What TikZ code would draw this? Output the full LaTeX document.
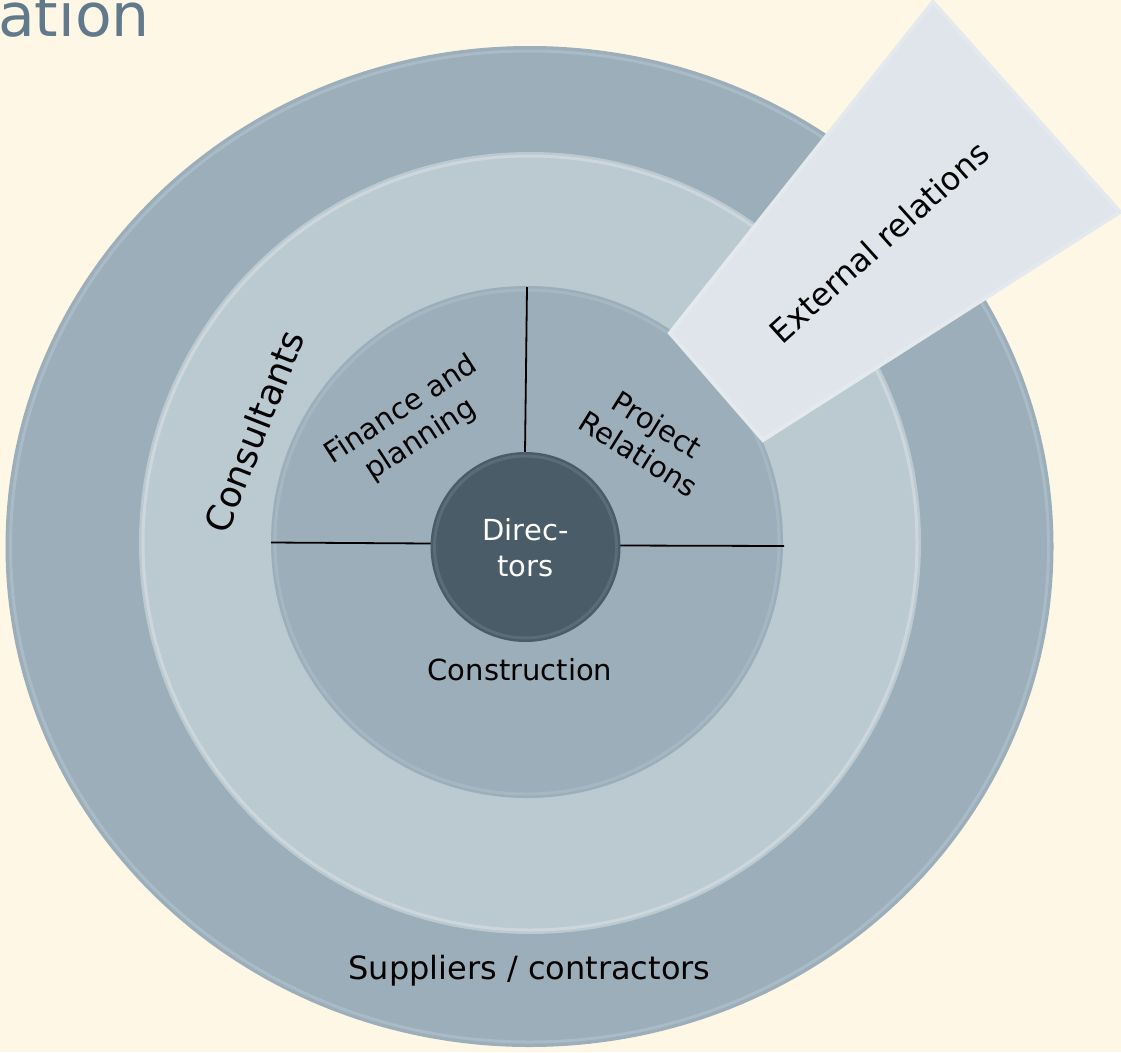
\documentclass[tikz,border=0pt]{standalone}
\usepackage{fontspec}
\setmainfont{DejaVu Sans}
\definecolor{bgcol}{HTML}{FFF7E6}
\definecolor{titlecol}{HTML}{607A8C}
\definecolor{ringdark}{HTML}{9BAEB9}
\definecolor{ringlight}{HTML}{BBC9D1}
\definecolor{dircol}{HTML}{4A5C68}
\definecolor{wedgecol}{HTML}{DFE5EA}
\definecolor{rimlight}{HTML}{C2D4DF}
\tikzset{
  lbl/.style={inner sep=0pt, text=black, align=center},
  divider/.style={draw=black, line width=1.8pt},
  rim/.style={draw=rimlight, line width=3pt, opacity=0.35},
}
\begin{document}
\begin{tikzpicture}[x=1pt,y=-1pt]
\useasboundingbox (0,0) rectangle (1121,1052);
\fill[bgcol] (0,0) rectangle (1121,1052);
% title fragment
\node[anchor=base east, text=titlecol, inner sep=0pt,
      font=\fontsize{60}{66}\selectfont] (title) at (150,36) {ation};
% outer ring
\fill[ringdark] (529.5,546.5) ellipse [x radius=524pt, y radius=500.5pt];
\draw[rim] (529.5,546.5) ellipse [x radius=519pt, y radius=495.5pt];
% middle ring
\fill[ringlight] (530,543) circle [radius=391pt];
\draw[rim, draw=white, opacity=0.25] (530,543) circle [radius=387pt];
% inner circle
\fill[ringdark] (527,542) circle [radius=256pt];
\draw[rim, opacity=0.25] (527,542) circle [radius=252pt];
% dividers
\coordinate (top1) at (527,287);
\coordinate (top2) at (525,453);
\coordinate (left1) at (271,542.5);
\coordinate (left2) at (431,543.5);
\coordinate (right1) at (620,545.5);
\coordinate (right2) at (784,546);
\draw[divider] (top1) -- (top2);
\draw[divider] (left1) -- (left2);
\draw[divider] (right1) -- (right2);
% directors
\fill[dircol] (525.5,547) circle [radius=95pt];
\draw[draw=white, line width=3pt, opacity=0.1] (525.5,547) circle [radius=91pt];
\node[lbl, text=white, font=\fontsize{29}{36}\selectfont] (dir) at (525.5,548) {Direc-\\tors};
% wedge
\filldraw[fill=wedgecol, draw=wedgecol!85!white, line width=4pt, line join=miter]
  (670,333) coordinate (w1) -- (933,2) coordinate (w2) -- (1120,212) coordinate (w3)
  -- (763,440) coordinate (w4) -- cycle;
% labels
\node[lbl, rotate=68.5, font=\fontsize{36}{42}\selectfont] (cons) at (254,431) {Consultants};
\node[lbl, rotate=33, font=\fontsize{29}{35}\selectfont] (fin) at (411,425) {Finance and\\planning};
\node[lbl, rotate=-32, font=\fontsize{29}{35}\selectfont] (proj) at (648,439) {Project\\Relations};
\node[lbl, anchor=base, font=\fontsize{29}{34}\selectfont] (constr) at (520,680) {Construction};
\node[lbl, anchor=base, font=\fontsize{32}{38}\selectfont] (supp) at (529.5,979) {Suppliers / contractors};
\node[lbl, rotate=42, font=\fontsize{32}{38}\selectfont] (ext) at (879,242) {External relations};
\end{tikzpicture}
\end{document}
